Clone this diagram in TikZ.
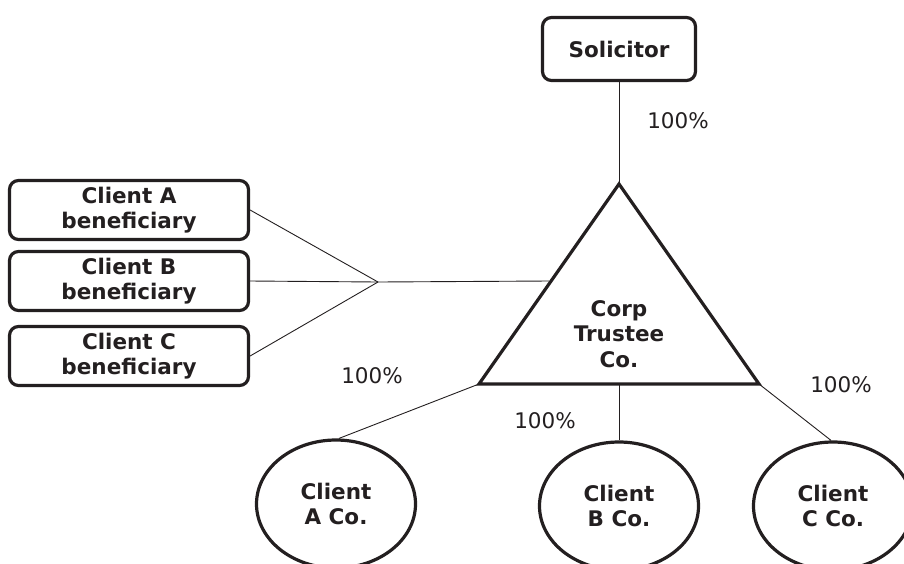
\documentclass[tikz,border=0pt]{standalone}
\usepackage{fontspec}
\setmainfont{DejaVu Sans}
\usetikzlibrary{shapes.geometric}
\definecolor{ink}{HTML}{231F20}
\begin{document}
\begin{tikzpicture}[x=1pt,y=-1pt,
  lbl/.style={font=\fontsize{21.5}{26}\selectfont, text=ink, inner sep=0pt},
  bld/.style={font=\fontsize{21.5}{25.5}\selectfont\bfseries, text=ink, align=center},
  rbox/.style={bld, draw=ink, line width=3.2pt, rounded corners=9pt, inner sep=0pt},
  oval/.style={bld, draw=ink, line width=3.2pt, ellipse, inner sep=0pt, minimum width=159pt, minimum height=128pt},
  conn/.style={draw=ink, line width=0.9pt}]
\useasboundingbox (0,0) rectangle (904,563);
\clip (0,0) rectangle (904,563);
% nodes
\node[rbox, minimum width=153pt, minimum height=63pt] (sol) at (619,49) {Solicitor};
\node[rbox, minimum width=239pt, minimum height=59pt] (ba) at (129,210) {Client A\\beneficiary};
\node[rbox, minimum width=239pt, minimum height=59pt] (bb) at (129,281) {Client B\\beneficiary};
\node[rbox, minimum width=239pt, minimum height=59pt] (bc) at (129,356) {Client C\\beneficiary};
% triangle
\coordinate (apex) at (619,184);
\coordinate (tbl) at (479,384);
\coordinate (tbr) at (759,384);
\coordinate (tbm) at (619,384);
\coordinate (tleft) at (549,281);
\draw[ink, line width=3.2pt, line join=miter] (apex) -- (tbl) -- (tbr) -- cycle;
\node[bld] (trust) at (619,334) {Corp\\Trustee\\Co.};
% ovals
\node[oval] (ea) at (336,504) {Client\\A Co.};
\node[oval] (eb) at (619,506) {Client\\B Co.};
\node[oval] (ec) at (833,506) {Client\\C Co.};
% junction
\coordinate (j) at (378,282);
% connectors
\draw[conn] (sol.south) -- (apex);
\draw[conn] (ba.east) -- (j);
\draw[conn] (bb.east) -- (j);
\draw[conn] (bc.east) -- (j);
\draw[conn] (j) -- (tleft);
\draw[conn] (tbl) -- ([xshift=3pt]ea.north);
\draw[conn] (tbm) -- (eb.north);
\draw[conn] (tbr) -- ([xshift=-2pt]ec.north);
% labels
\node[lbl] (p1) at (678,121) {100\%};
\node[lbl] (p2) at (372,376) {100\%};
\node[lbl] (p3) at (545,421) {100\%};
\node[lbl] (p4) at (841,385) {100\%};
\end{tikzpicture}
\end{document}
